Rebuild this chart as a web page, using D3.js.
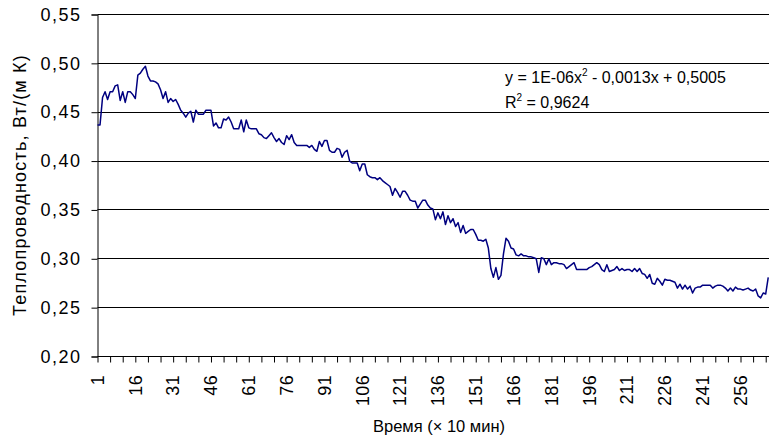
<!DOCTYPE html>
<html>
<head>
<meta charset="utf-8">
<script src="https://cdn.jsdelivr.net/npm/d3@7"></script>
<style>
  body { margin: 0; background: #fff; }
  svg { display: block; font-family: "Liberation Sans", Arial, sans-serif; }
</style>
</head>
<body>
<svg id="chart" width="769" height="443"></svg>
<script>
// thermal conductivity, one value per 10-minute step (category 1..267)
const conductivity = [
  0.437, 0.437, 0.465, 0.471, 0.463, 0.471, 0.471, 0.477, 0.478, 0.462,
  0.471, 0.460, 0.471, 0.471, 0.468, 0.464, 0.488, 0.490, 0.494, 0.497,
  0.487, 0.482, 0.482, 0.481, 0.479, 0.473, 0.464, 0.471, 0.460, 0.464,
  0.461, 0.463, 0.458, 0.452, 0.449, 0.445, 0.449, 0.451, 0.440, 0.452,
  0.448, 0.448, 0.448, 0.452, 0.452, 0.452, 0.436, 0.439, 0.434, 0.434,
  0.443, 0.442, 0.445, 0.440, 0.433, 0.433, 0.433, 0.442, 0.430, 0.442,
  0.434, 0.433, 0.433, 0.433, 0.428, 0.427, 0.424, 0.423, 0.426, 0.429,
  0.424, 0.420, 0.423, 0.419, 0.417, 0.426, 0.422, 0.427, 0.419, 0.416,
  0.416, 0.416, 0.416, 0.416, 0.414, 0.416, 0.412, 0.410, 0.420, 0.415,
  0.421, 0.421, 0.411, 0.409, 0.409, 0.413, 0.412, 0.404, 0.409, 0.411,
  0.400, 0.398, 0.398, 0.398, 0.390, 0.397, 0.397, 0.386, 0.384, 0.383,
  0.383, 0.381, 0.383, 0.380, 0.378, 0.376, 0.374, 0.365, 0.372, 0.368,
  0.363, 0.369, 0.369, 0.365, 0.360, 0.359, 0.359, 0.352, 0.356, 0.360,
  0.360, 0.355, 0.352, 0.351, 0.340, 0.347, 0.341, 0.348, 0.335, 0.344,
  0.337, 0.341, 0.333, 0.337, 0.327, 0.334, 0.326, 0.328, 0.330, 0.330,
  0.325, 0.319, 0.319, 0.318, 0.320, 0.311, 0.290, 0.281, 0.291, 0.279,
  0.283, 0.305, 0.321, 0.318, 0.311, 0.310, 0.304, 0.303, 0.305, 0.303,
  0.303, 0.302, 0.302, 0.301, 0.300, 0.286, 0.301, 0.300, 0.294, 0.300,
  0.294, 0.296, 0.296, 0.295, 0.295, 0.294, 0.290, 0.292, 0.294, 0.296,
  0.289, 0.289, 0.289, 0.289, 0.289, 0.291, 0.292, 0.294, 0.296, 0.294,
  0.289, 0.287, 0.294, 0.287, 0.288, 0.289, 0.292, 0.288, 0.290, 0.288,
  0.289, 0.289, 0.287, 0.290, 0.287, 0.290, 0.285, 0.284, 0.280, 0.284,
  0.275, 0.274, 0.280, 0.277, 0.273, 0.279, 0.278, 0.278, 0.277, 0.276,
  0.270, 0.274, 0.269, 0.273, 0.269, 0.272, 0.265, 0.270, 0.271, 0.271,
  0.273, 0.273, 0.273, 0.273, 0.270, 0.272, 0.273, 0.273, 0.272, 0.270,
  0.267, 0.270, 0.267, 0.271, 0.269, 0.269, 0.268, 0.269, 0.270, 0.268,
  0.267, 0.269, 0.262, 0.260, 0.265, 0.264, 0.281
];
const yTicks = [0.20, 0.25, 0.30, 0.35, 0.40, 0.45, 0.50, 0.55];
const xLabelTicks = d3.range(1, 257, 15);   // 1, 16, 31 ... 256
const xMinorTicks = d3.range(1, 268, 5);    // tick mark every 5 steps
const trendText = ["y = 1E-06x", " - 0,0013x + 0,5005", "R", " = 0,9624"];

const svg = d3.select("#chart");
const width = +svg.attr("width");

const x = d3.scaleLinear().domain([1, 256]).range([97.5, 740.5]);
const y = d3.scaleLinear().domain([0.20, 0.55]).range([356.5, 14.5]);
const fmt = v => d3.format(".2f")(v).replace(".", ",");

// gridlines
svg.append("g")
    .selectAll("line")
    .data(yTicks)
    .enter().append("line")
    .attr("x1", x(1)).attr("x2", width)
    .attr("y1", d => Math.round(y(d) - 0.5) + 0.5)
    .attr("y2", d => Math.round(y(d) - 0.5) + 0.5)
    .attr("stroke", "#000").attr("stroke-width", 1);

// y axis
let yAxis = svg.append("g")
    .attr("transform", `translate(${x(1)},0)`)
    .call(d3.axisLeft(y).tickValues(yTicks).tickSize(6).tickPadding(10).tickFormat(fmt));
yAxis.select(".domain").attr("stroke", "#000");
yAxis.selectAll(".tick line").attr("stroke", "#000");
yAxis.selectAll(".tick text")
    .attr("font-size", 18).attr("fill", "#000")
    .attr("letter-spacing", 1.5)
    .attr("font-family", "Liberation Sans, Arial, sans-serif");

// x axis
let xAxis = svg.append("g")
    .attr("transform", `translate(0,${y(0.20)})`)
    .call(d3.axisBottom(x).tickValues(xMinorTicks).tickSize(6).tickFormat(""));
xAxis.select(".domain").remove();
xAxis.selectAll(".tick line").attr("stroke", "#000");

svg.append("g")
    .selectAll("text")
    .data(xLabelTicks)
    .enter().append("text")
    .attr("transform", d => `translate(${x(d)},375) rotate(-90)`)
    .attr("dy", "0.35em")
    .attr("text-anchor", "end")
    .attr("font-size", 18)
    .attr("letter-spacing", 0.3)
    .text(d => d);

// data line
svg.append("path")
    .datum(conductivity)
    .attr("fill", "none")
    .attr("stroke", "#000080")
    .attr("stroke-width", 1.5)
    .attr("stroke-linejoin", "round")
    .attr("d", d3.line().x((d, i) => x(i + 1)).y(d => y(d)));

// axis titles
svg.append("text")
    .attr("transform", "translate(20,185) rotate(-90)")
    .attr("dy", "0.35em")
    .attr("text-anchor", "middle")
    .attr("font-size", 18)
    .attr("letter-spacing", 1.2)
    .text("Теплопроводность, Вт/(м К)");

svg.append("text")
    .attr("x", 439).attr("y", 432)
    .attr("text-anchor", "middle")
    .attr("font-size", 16.5)
    .text("Время (× 10 мин)");

// trendline equation
let eq = svg.append("text").attr("x", 505).attr("y", 83).attr("font-size", 16);
eq.append("tspan").text(trendText[0]);
eq.append("tspan").attr("dy", -7).attr("font-size", 10).text("2");
eq.append("tspan").attr("dy", 7).text(trendText[1]);

let r2 = svg.append("text").attr("x", 505).attr("y", 108).attr("font-size", 16);
r2.append("tspan").text(trendText[2]);
r2.append("tspan").attr("dy", -7).attr("font-size", 10).text("2");
r2.append("tspan").attr("dy", 7).text(trendText[3]);
</script>
</body>
</html>
